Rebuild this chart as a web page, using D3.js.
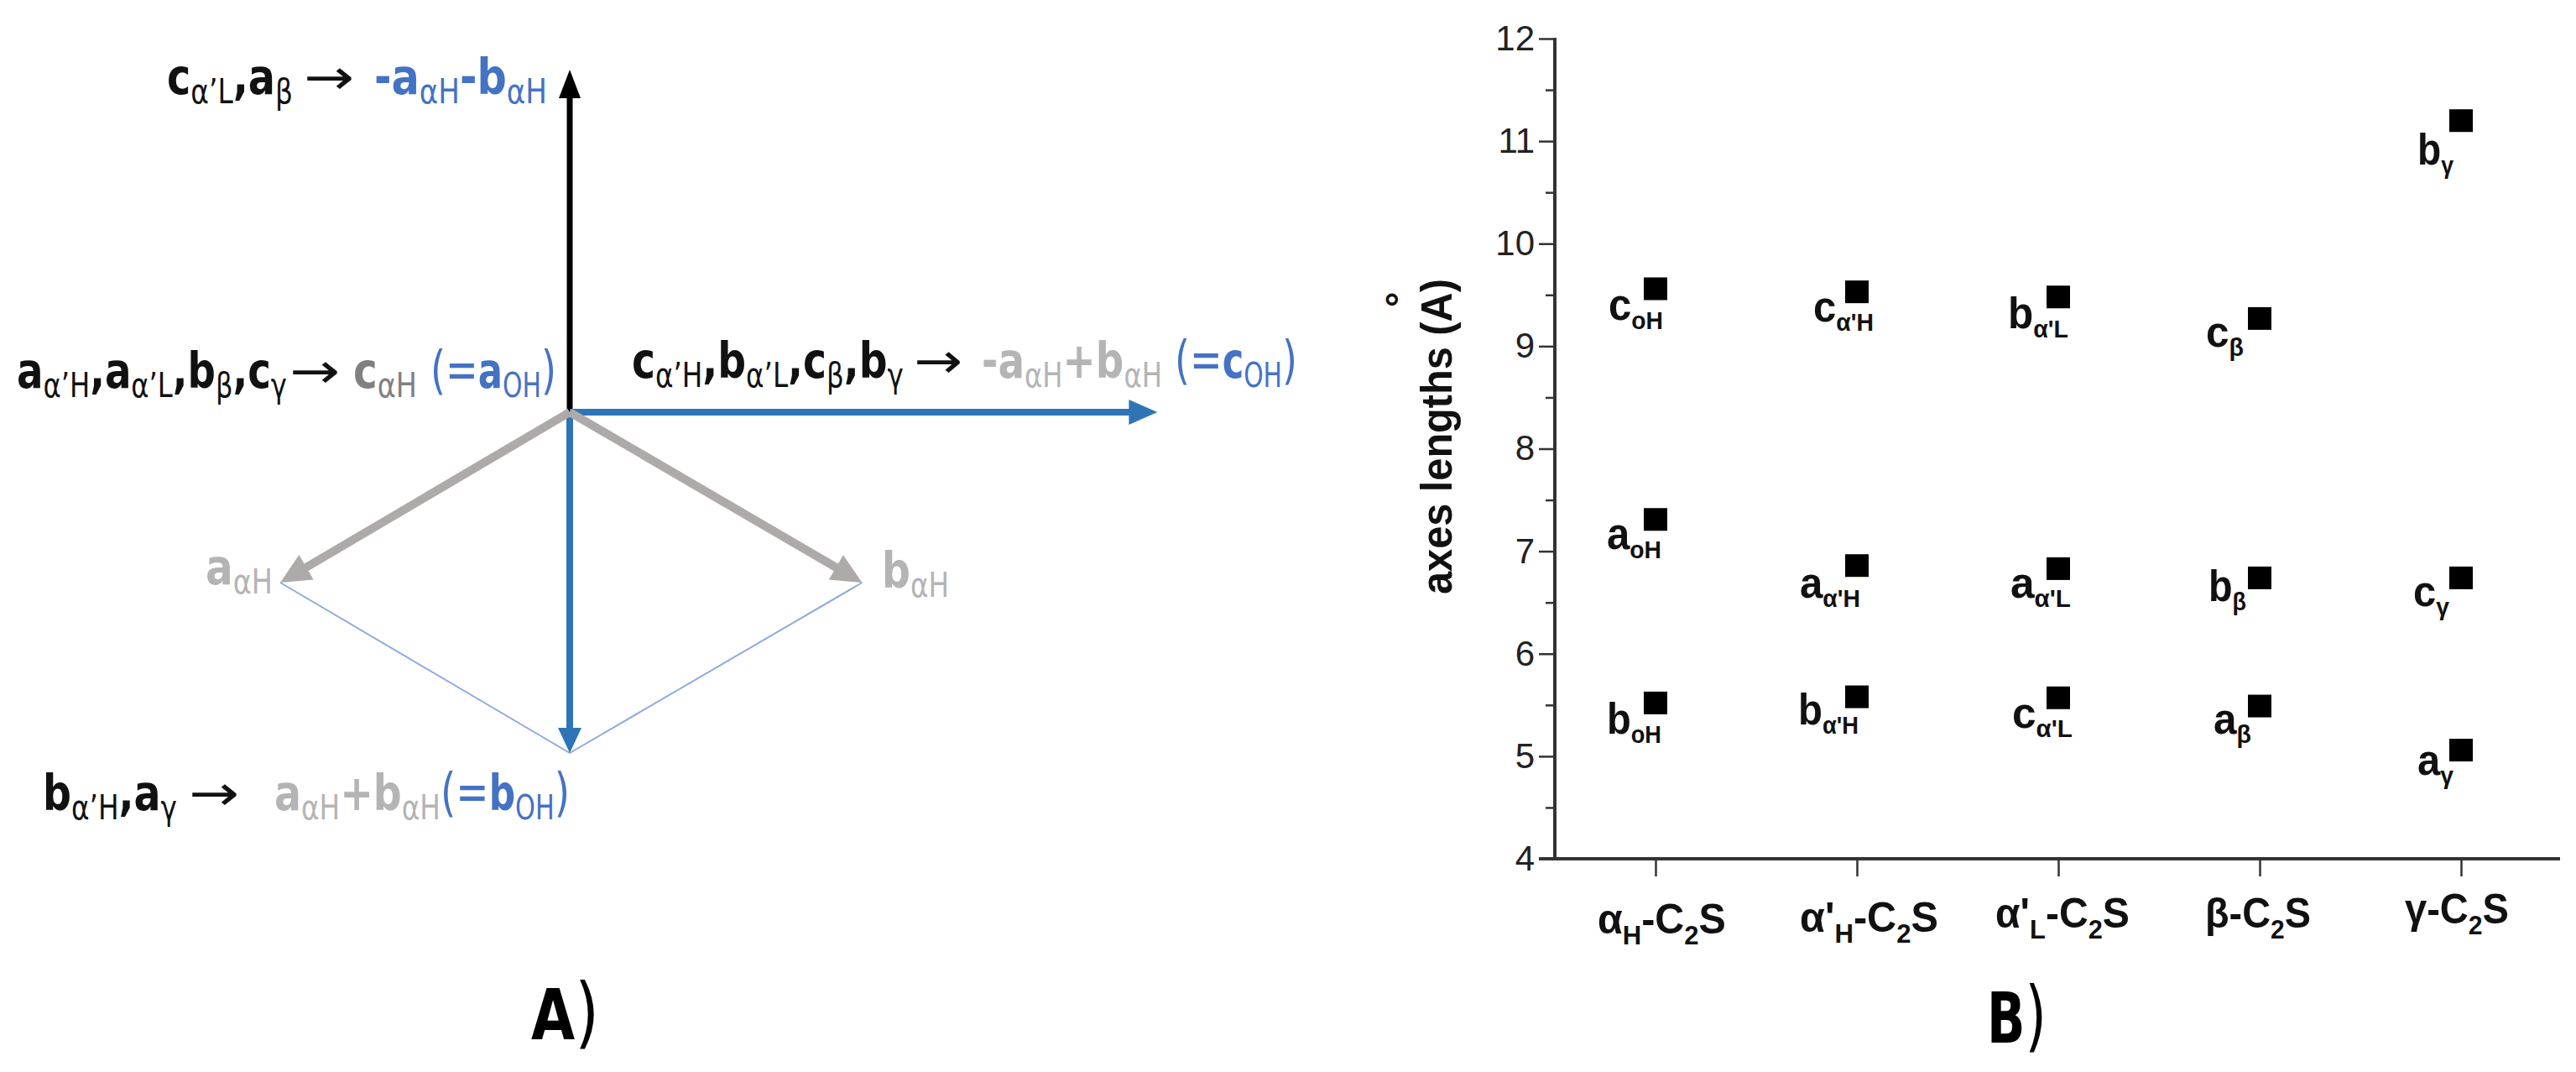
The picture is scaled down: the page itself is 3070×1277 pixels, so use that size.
<!DOCTYPE html>
<html><head><meta charset="utf-8">
<script src="https://cdn.jsdelivr.net/npm/d3@7"></script>
<style>html,body{margin:0;padding:0;background:#fff}svg{display:block}</style>
</head><body><svg id="c" width="3070" height="1277"></svg>
<script>
// ---- Panel B data ----
const categories = ["αH","α'H","α'L","β","γ"];
const yTicks = [4,5,6,7,8,9,10,11,12];
const yMinorTicks = [4.5,5.5,6.5,7.5,8.5,9.5,10.5,11.5];
const seriesTop = [9.56,9.53,9.48,9.27,11.2];
const seriesMiddle = [7.31,6.86,6.83,6.74,6.74];
const seriesBottom = [5.52,5.58,5.57,5.49,5.06];
const topLetters = ["c","c","b","c","b"];
const middleLetters = ["a","a","a","b","c"];
const bottomLetters = ["b","b","c","a","a"];
const pointSubs = ["oH","α'H","α'L","β","γ"];
// ---- Panel A vectors (in units of the αH basis) ----
const vecA = [-1,-1], vecB = [1.01,-1], vecSum = [0,-2], vecNeg = [0,2.01], vecDiff = [2.03,0];

const svg = d3.select("#c");
const DARK="#111", BLUE="#4472c4", GREY="#808080", LIGHT="#b4b4b4";
const SANS="'DejaVu Sans'", ARIAL="'Liberation Sans'";

function fit(t,x,y,width){
  t.attr("x",0).attr("y",0);
  const n=t.node().getComputedTextLength();
  t.attr("transform",`translate(${x},${y}) scale(${width?width/n:1},1)`);
  return t;
}
function rich(x,y,runs,opt){
  const t=svg.append("text").attr("font-family",opt.font).attr("xml:space","preserve");
  let shift=0;
  runs.forEach(r=>{
    const sub=r.sub, ts=t.append("tspan").text(r.t)
      .attr("fill",r.c||opt.color||DARK)
      .attr("font-size",r.size||(sub?opt.subSize:opt.size))
      .attr("font-weight",r.w||(sub?opt.subWeight:opt.weight));
    const want=sub?opt.subDrop:0;
    if(want!==shift){ts.attr("dy",want-shift);shift=want;}
  });
  return fit(t,x,y,opt.width);
}
const M=(t,c)=>({t,c}), S=(t,c)=>({t,c,sub:1});
const P=(t,c)=>({t,c,w:400,size:62});
const leftOpt=(width,color)=>({font:SANS,size:58,subSize:40,subDrop:11,weight:700,subWeight:400,width,color});

// ---- Panel A ----
const xD=d3.scaleLinear().domain([0,1]).range([679,1024]);
const yD=d3.scaleLinear().domain([0,1]).range([491,694]);
const o=[0,0];
const pt=v=>[xD(v[0]),yD(-v[1])];
function arrow(v,color,w,hl,hw){
  const [x0,y0]=pt(o),[x1,y1]=pt(v),L=Math.hypot(x1-x0,y1-y0),ux=(x1-x0)/L,uy=(y1-y0)/L;
  svg.append("line").attr("x1",x0).attr("y1",y0).attr("x2",x1-ux*hl*.7).attr("y2",y1-uy*hl*.7)
    .attr("stroke",color).attr("stroke-width",w);
  const bx=x1-ux*hl,by=y1-uy*hl;
  svg.append("path").attr("fill",color).attr("d",d3.line()([[x1,y1],[bx-uy*hw/2,by+ux*hw/2],[bx+uy*hw/2,by-ux*hw/2]])+"Z");
}
[[vecA,vecSum],[vecB,vecSum]].forEach(([p,q])=>{
  const a=pt(p),b=pt(q);
  svg.append("line").attr("x1",a[0]).attr("y1",a[1]).attr("x2",b[0]).attr("y2",b[1]).attr("stroke","#8faadc").attr("stroke-width",2);
});
arrow(vecNeg,"#000",7,34,26);
arrow(vecSum,"#2e75b6",8,30,28);
arrow(vecDiff,"#2e75b6",8,34,30);
arrow(vecA,"#aeaaaa",10,36,34);
arrow(vecB,"#aeaaaa",10,36,34);

const arrowRun=[{t:"→",c:DARK,w:400}];
rich(199,112,[M("c"),S("α’L"),M(","),M("a"),S("β")],leftOpt(150));
rich(362,112,arrowRun,leftOpt(60));
rich(446,112,[M("-a",BLUE),S("αH",BLUE),M("-b",BLUE),S("αH",BLUE)],leftOpt(206));

rich(20,462,[M("a"),S("α’H"),M(","),M("a"),S("α’L"),M(","),M("b"),S("β"),M(","),M("c"),S("γ")],leftOpt(322));
rich(345,462,arrowRun,leftOpt(60));
rich(421,462,[{t:"c",c:GREY},S("αH",GREY)],leftOpt(76));
rich(513,462,[P("(=",BLUE),M("a",BLUE),S("OH",BLUE),P(")",BLUE)],leftOpt(150));

rich(753,450,[M("c"),S("α’H"),M(","),M("b"),S("α’L"),M(","),M("c"),S("β"),M(","),M("b"),S("γ")],leftOpt(324));
rich(1089,450,arrowRun,leftOpt(58));
rich(1170,450,[{t:"-a",c:LIGHT},S("αH",LIGHT),{t:"+b",c:LIGHT},S("αH",LIGHT)],leftOpt(215));
rich(1400,450,[P("(=",BLUE),M("c",BLUE),S("OH",BLUE),P(")",BLUE)],leftOpt(146));

rich(51,965,[M("b"),S("α’H"),M(","),M("a"),S("γ")],leftOpt(160));
rich(225,965,arrowRun,leftOpt(60));
rich(327,965,[{t:"a",c:LIGHT},S("αH",LIGHT),{t:"+b",c:LIGHT},S("αH",LIGHT)],leftOpt(198));
rich(525,965,[P("(=",BLUE),M("b",BLUE),S("OH",BLUE),P(")",BLUE)],leftOpt(154));

rich(245,696,[{t:"a",c:LIGHT},S("αH",LIGHT)],leftOpt(80));
rich(1051,700,[{t:"b",c:LIGHT},S("αH",LIGHT)],leftOpt(80));

[["A",633,1238,81],["B",2368,1242,71]].forEach(([s,lx,ly,w])=>{
  const t=svg.append("text").attr("font-family",SANS).attr("font-size",84).attr("fill","#000").attr("font-weight",700).text(s);
  t.append("tspan").attr("font-weight",400).attr("font-size",92).text(")");
  fit(t,lx,ly,w);
});

// ---- Panel B ----
const x=d3.scalePoint().domain(categories).range([1973,2933]);
const y=d3.scaleLinear().domain([4,12]).range([1023,46]);
const axisCol="#333";
const gy=svg.append("g").attr("transform","translate(1853,0)")
  .call(d3.axisLeft(y).tickValues(yTicks).tickFormat(d3.format("d")).tickSize(19).tickPadding(5));
const gym=svg.append("g").attr("transform","translate(1853,0)")
  .call(d3.axisLeft(y).tickValues(yMinorTicks).tickFormat("").tickSize(11));
const gx=svg.append("g").attr("transform","translate(0,1023)")
  .call(d3.axisBottom(x).tickFormat("").tickSize(21));
[gy,gym,gx].forEach(g=>{
  g.selectAll(".tick line").attr("stroke",axisCol).attr("stroke-width",2.5);
  g.select(".domain").remove();
});
gy.selectAll("text").attr("font-family",ARIAL).attr("font-size",42).attr("fill","#222");
svg.append("line").attr("x1",1853).attr("x2",1853).attr("y1",y(12)-1).attr("y2",y(4)+2).attr("stroke",axisCol).attr("stroke-width",4);
svg.append("line").attr("x1",1834).attr("x2",3051).attr("y1",y(4)).attr("y2",y(4)).attr("stroke",axisCol).attr("stroke-width",4);

const yt=svg.append("text").attr("font-family",ARIAL).attr("font-weight",700).attr("font-size",51).attr("fill","#111").text("axes lengths (A)").attr("x",0).attr("y",0);
const ytn=yt.node().getComputedTextLength();
yt.attr("transform",`translate(1730,708) rotate(-90) scale(${376/ytn},1)`);
svg.append("text").attr("transform","translate(1684,366) rotate(-90)").attr("font-family",ARIAL)
  .attr("font-weight",700).attr("font-size",46).attr("fill","#111").text("°");

const sw=28, sh=27;
const labelOffsets=[[[-56,37],[-58,35],[-58,37]],[[-52,35],[-68,38],[-70,33]],[[-60,37],[-57,35],[-55,36]],[[-64,34],[-61,28],[-55,33]],[[-52,52],[-57,34],[-52,29]]];
const subWidths=[38,45,45,18,16];
[[seriesTop,topLetters],[seriesMiddle,middleLetters],[seriesBottom,bottomLetters]].forEach(([vals,letters],k)=>{
  svg.append("g").selectAll("rect").data(vals).join("rect")
    .attr("x",(d,i)=>x(categories[i])-sw/2).attr("y",d=>y(d)-sh/2).attr("width",sw).attr("height",sh).attr("fill","#000");
  vals.forEach((d,i)=>{
    const off=labelOffsets[i][k];
    rich(x(categories[i])+off[0],y(d)+off[1],[{t:letters[i]},{t:pointSubs[i],sub:1}],
      {font:ARIAL,size:52,subSize:30,subDrop:11,weight:700,subWeight:700,width:27+subWidths[i]});
  });
});

// category labels
const catLayout=[[1904,1112,153],[2145,1110,165],[2378,1105,160],[2628,1105,126],[2866,1100,124]];
const catPrefix=[["α","H"],["α'","H"],["α'","L"],["β",""],["γ",""]];
catPrefix.forEach((p,i)=>{
  const [cx,cy,w]=catLayout[i];
  const t=svg.append("text").attr("font-family",ARIAL).attr("font-size",50).attr("fill","#111");
  t.append("tspan").attr("font-weight",700).text(p[0]);
  let s=0;
  if(p[1]){t.append("tspan").attr("font-size",32).attr("font-weight",700).attr("dy",13).text(p[1]);s=13;}
  const d=t.append("tspan").attr("font-weight",700).text("-C");
  if(s)d.attr("dy",-13);
  t.append("tspan").attr("font-size",32).attr("font-weight",700).attr("dy",13).text("2");
  t.append("tspan").attr("font-weight",700).attr("dy",-13).text("S");
  fit(t,cx,cy,w);
});
</script></body></html>
